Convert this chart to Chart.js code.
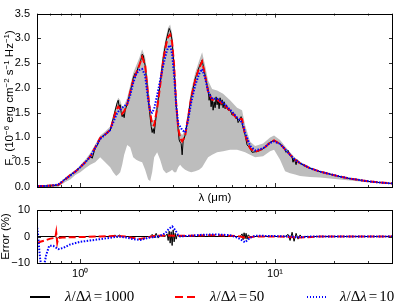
<!DOCTYPE html>
<html>
<head>
<meta charset="utf-8">
<script src="https://cdn.jsdelivr.net/npm/chart.js@4.4.0/dist/chart.umd.min.js"></script>
<style>
  body { margin: 0; width: 403px; height: 306px; overflow: hidden; background: #fff; position: relative; }
  canvas { position: absolute; left: 0; }
  #top { top: 0; }
  #bot { top: 195px; }
  .txt { position: absolute; top: 288px; font: 15px "Liberation Serif", serif; line-height: 17px; white-space: nowrap; color: #000; }
  .txt span { margin: 0 2px; }
  .smp { position: absolute; height: 2px; top: 296px; }
</style>
</head>
<body>
<canvas id="top" width="403" height="205"></canvas>
<canvas id="bot" width="403" height="90"></canvas>

<div class="smp" style="left:30px;width:20px;background:#000;height:1.5px"></div>
<div class="txt" style="left:65px"><i>λ</i>/Δ<i>λ</i><span>=</span>1000</div>
<div class="smp" style="left:175px;width:23px;background:repeating-linear-gradient(90deg,#f00 0 8px,transparent 8px 12px)"></div>
<div class="txt" style="left:210px"><i>λ</i>/Δ<i>λ</i><span>=</span>50</div>
<div class="smp" style="left:307px;width:19px;background:repeating-linear-gradient(90deg,#00f 0 1.5px,transparent 1.5px 3px)"></div>
<div class="txt" style="left:340px"><i>λ</i>/Δ<i>λ</i><span>=</span>10</div>

<script>
// wavelength grid (micron) shared by R=50, R=10 and the high-res envelope
const lam = [0.602,0.661,0.718,0.771,0.838,0.889,0.943,1.000,1.061,1.125,
  1.194,1.266,1.343,1.425,1.476,1.530,1.566,1.604,1.642,1.681,
  1.742,1.805,1.870,1.938,2.007,2.079,2.154,2.232,2.286,2.340,
  2.396,2.482,2.572,2.665,2.761,2.827,2.894,2.963,3.034,3.107,
  3.182,3.257,3.335,3.455,3.580,3.709,3.889,4.076,4.223,4.375,
  4.533,4.752,5.041,5.411,5.878,6.384,6.772,7.017,7.444,7.897,
  8.680,9.427,9.883,10.61,11.26,11.94,12.67,13.44,15.12,17.01,
  19.15,21.54,24.24,27.29,30.71,34.55,40.29];

const flux50 = [0.02,0.02,0.03,0.04,0.15,0.24,0.31,0.40,0.50,0.61,
  0.80,0.99,1.06,1.15,1.35,1.55,1.62,1.58,1.48,1.53,
  1.66,1.92,2.15,2.30,2.45,2.62,2.46,1.85,1.50,1.26,
  1.24,1.58,2.05,2.55,2.88,3.03,3.08,2.92,2.45,1.70,
  1.20,0.98,0.92,1.03,1.40,1.80,2.15,2.40,2.53,2.25,
  1.93,1.76,1.76,1.67,1.54,1.38,1.37,1.05,0.78,0.71,
  0.77,0.90,0.94,0.87,0.76,0.65,0.55,0.48,0.38,0.31,
  0.26,0.21,0.17,0.14,0.11,0.09,0.07];

const flux10 = [0.02,0.02,0.03,0.05,0.16,0.23,0.31,0.40,0.50,0.61,
  0.79,0.97,1.06,1.15,1.30,1.45,1.52,1.56,1.60,1.63,
  1.68,1.85,2.10,2.28,2.36,2.38,2.25,1.75,1.52,1.50,
  1.58,1.85,2.15,2.45,2.70,2.82,2.86,2.68,2.25,1.65,
  1.28,1.22,1.15,1.10,1.35,1.70,2.05,2.28,2.38,2.20,
  1.92,1.78,1.78,1.70,1.56,1.40,1.30,1.10,0.83,0.74,
  0.78,0.89,0.92,0.87,0.76,0.65,0.55,0.48,0.38,0.31,
  0.26,0.21,0.17,0.14,0.11,0.09,0.07];

// envelope of the full-resolution spectrum
const hiresMax = [0.03,0.04,0.05,0.06,0.19,0.27,0.34,0.44,0.55,0.68,
  0.86,1.04,1.12,1.22,1.45,1.68,1.80,1.75,1.62,1.65,
  1.80,2.05,2.30,2.45,2.60,2.78,2.62,2.10,1.65,1.35,
  1.35,1.75,2.25,2.75,3.05,3.22,3.28,3.10,2.65,1.90,
  1.35,1.10,1.05,1.15,1.55,1.95,2.30,2.55,2.72,2.45,
  2.15,1.98,1.95,1.88,1.75,1.60,1.55,1.25,0.92,0.83,
  0.88,1.00,1.04,0.95,0.82,0.70,0.59,0.51,0.40,0.33,
  0.27,0.22,0.18,0.145,0.115,0.095,0.075];

const hiresMin = [0.0,0.0,0.0,0.0,0.10,0.15,0.24,0.30,0.38,0.45,
  0.50,0.60,0.50,0.40,0.30,0.22,0.25,0.30,0.45,0.65,
  0.85,0.80,0.60,0.55,0.52,0.50,0.35,0.15,0.12,0.30,
  0.60,0.70,0.55,0.35,0.28,0.30,0.32,0.35,0.30,0.30,
  0.40,0.45,0.40,0.35,0.32,0.30,0.32,0.35,0.40,0.50,
  0.60,0.65,0.70,0.72,0.75,0.75,0.72,0.70,0.65,0.60,
  0.62,0.72,0.75,0.55,0.32,0.28,0.25,0.22,0.20,0.19,
  0.17,0.15,0.13,0.11,0.09,0.075,0.06];

// R=1000 has its own, finer grid
const lam1000 = [0.602,0.661,0.718,0.771,0.838,0.889,0.943,1.000,1.061,1.099,
  1.125,1.152,1.180,1.194,1.222,1.266,1.312,1.343,1.392,1.425,
  1.476,1.512,1.548,1.566,1.585,1.604,1.623,1.642,1.662,1.681,
  1.701,1.742,1.805,1.848,1.870,1.915,1.938,1.984,2.031,2.079,
  2.104,2.154,2.206,2.232,2.286,2.313,2.340,2.368,2.396,2.424,
  2.482,2.572,2.665,2.761,2.827,2.861,2.894,2.929,2.963,3.034,
  3.107,3.182,3.219,3.257,3.296,3.335,3.374,3.415,3.455,3.580,
  3.709,3.889,4.076,4.223,4.375,4.480,4.533,4.587,4.642,4.697,
  4.752,4.809,4.866,4.924,4.982,5.041,5.101,5.162,5.223,5.285,
  5.348,5.411,5.476,5.541,5.607,5.741,5.878,6.018,6.162,6.310,
  6.384,6.460,6.614,6.693,6.772,6.853,7.017,7.184,7.444,7.622,
  7.897,8.181,8.680,9.427,9.883,10.61,11.12,11.39,11.66,11.94,
  12.23,12.37,12.52,12.82,12.97,13.28,13.44,14.25,15.12,17.01,
  19.15,21.54,24.24,27.29,30.71,34.55,40.29];

const flux1000 = [0.02,0.02,0.03,0.04,0.16,0.24,0.31,0.40,0.50,0.56,
  0.63,0.58,0.72,0.78,0.84,0.97,1.04,1.06,1.10,1.14,
  1.38,1.55,1.70,1.75,1.62,1.66,1.50,1.42,1.47,1.40,
  1.55,1.67,1.92,2.10,2.20,2.30,2.28,2.42,2.50,2.68,
  2.66,2.45,2.05,1.80,1.40,1.22,1.10,1.18,1.08,1.25,
  1.60,2.08,2.60,2.95,3.12,3.20,3.16,3.08,2.95,2.40,
  1.65,1.15,0.95,0.90,0.88,0.65,0.92,0.98,1.05,1.42,
  1.82,2.18,2.42,2.56,2.26,2.05,1.98,1.75,1.88,1.62,
  1.80,1.55,1.72,1.60,1.82,1.66,1.78,1.58,1.80,1.65,
  1.76,1.60,1.72,1.58,1.66,1.55,1.56,1.45,1.48,1.38,
  1.40,1.30,1.36,1.42,1.30,1.20,1.05,0.85,0.78,0.70,
  0.71,0.72,0.77,0.90,0.94,0.87,0.80,0.70,0.74,0.64,
  0.60,0.50,0.58,0.45,0.55,0.50,0.48,0.42,0.38,0.31,
  0.26,0.21,0.17,0.14,0.11,0.09,0.07];

// relative error (%) of each resolution
const lamErr1000 = [0.602,0.745,0.762,0.780,1.425,1.512,1.548,1.585,1.623,2.286,
  2.340,2.396,2.453,2.512,2.572,2.729,2.794,2.827,2.861,2.894,
  2.929,2.963,2.999,3.034,3.070,3.107,3.145,3.257,6.614,6.772,
  6.853,6.934,7.017,7.100,7.184,7.268,7.444,11.26,11.66,11.94,
  12.23,12.52,12.82,13.12,13.44,13.76,14.25,40.29];
const err1000 = [0,0,-0.8,0,0,0.5,-0.4,0.6,0,0,
  0.8,-0.5,1.2,-0.6,0.3,0,1.0,-1.5,2.0,-2.5,
  1.8,-3.4,2.5,-2.0,1.2,-1.0,0.5,0,0,1.0,
  -1.2,1.4,-0.8,1.2,-1.0,0.6,0,0,0.8,-1.5,
  1.6,-1.8,1.2,-1.0,0.6,-0.4,0,0];

const lamErr50 = [0.602,0.624,0.661,0.702,0.745,0.753,0.762,0.771,0.809,0.889,
  1.000,1.266,1.548,1.701,1.848,2.031,2.232,2.424,2.729,3.070,
  3.665,4.124,4.924,5.878,6.614,7.100,7.897,10.61,13.44,17.01,40.29];
const err50 = [-2.5,-2.0,-1.5,-0.8,-0.5,1.6,-2.3,-0.6,-0.4,-0.3,
  -0.2,0,0.2,0,-0.5,-0.9,-0.3,0.3,0.4,0.3,
  0.3,0.4,0.5,0.3,0,-0.6,0,0,-0.4,0,0];

const lamErr10 = [0.602,0.609,0.616,0.624,0.631,0.654,0.669,0.693,0.727,0.771,
  0.818,0.889,1.000,1.125,1.266,1.425,1.548,1.701,1.870,2.031,
  2.232,2.512,2.729,2.861,2.963,3.070,3.182,3.257,3.665,4.124,
  4.924,5.878,6.460,7.017,7.444,7.897,9.427,11.94,13.44,15.12,40.29];
const err10 = [3.3,0,-5,-9,-10.5,-10.5,-7,-3.5,-3.5,-4.8,
  -4.3,-3,-2,-1.5,-1,-0.5,0,-0.3,-1,-1.3,
  -0.5,0,1.2,3.0,3.8,2.5,0.5,0,0.3,0.6,
  0.8,0.5,-0.5,-2.2,-0.5,0.3,0.2,0,-0.3,0,0];

const fluxTicks = [0, 0.5, 1, 1.5, 2, 2.5, 3, 3.5];
const errTicks = [-10, -5, 0, 5, 10];

const pts = (xs, ys) => xs.map((x, i) => ({x: x, y: ys[i]}));

Chart.defaults.font.family = "'Liberation Sans', Arial, sans-serif";
Chart.defaults.font.size = 11;
Chart.defaults.color = '#000';

const X_MIN = 0.6, X_MAX = 40.3;

// inward ticks + frame, matplotlib style
const frame = {
  id: 'frame',
  afterDatasetsDraw(chart) {
    const ctx = chart.ctx, a = chart.chartArea;
    const xs = chart.scales.x, ys = chart.scales.y;
    ctx.save();
    ctx.strokeStyle = '#333';
    ctx.lineWidth = 1;
    ctx.beginPath();
    for (const dec of [0.1, 1, 10]) {
      for (let k = 1; k < 10; k++) {
        const v = dec * k;
        if (v < X_MIN || v > X_MAX) continue;
        const px = Math.round(xs.getPixelForValue(v)) + 0.5;
        const len = k === 1 ? 4 : 2;
        ctx.moveTo(px, a.bottom); ctx.lineTo(px, a.bottom - len);
        ctx.moveTo(px, a.top); ctx.lineTo(px, a.top + len);
      }
    }
    for (const t of ys.ticks) {
      const py = Math.round(ys.getPixelForValue(t.value)) + 0.5;
      ctx.moveTo(a.left, py); ctx.lineTo(a.left + 4, py);
      ctx.moveTo(a.right, py); ctx.lineTo(a.right - 4, py);
    }
    ctx.stroke();
    ctx.strokeStyle = '#000';
    ctx.strokeRect(Math.round(a.left) + 0.5, Math.round(a.top) + 0.5,
      Math.round(a.right - a.left) - 1, Math.round(a.bottom - a.top));
    ctx.restore();
  }
};

// y title with sub/superscripts
const fluxTitle = {
  id: 'fluxTitle',
  afterDraw(chart) {
    const ctx = chart.ctx;
    const parts = [['F', 0], ['ν', 1], [' (10', 0], ['−6', -1], [' erg cm', 0], ['−2', -1],
      [' s', 0], ['−1', -1], [' Hz', 0], ['−1', -1], [')', 0]];
    const big = "11.5px 'Liberation Sans', Arial, sans-serif";
    const small = "8px 'Liberation Sans', Arial, sans-serif";
    ctx.save();
    let w = 0;
    for (const [t, s] of parts) { ctx.font = s ? small : big; w += ctx.measureText(t).width; }
    ctx.translate(9, 98);
    ctx.rotate(-Math.PI / 2);
    ctx.fillStyle = '#000';
    ctx.textBaseline = 'alphabetic';
    let x = -w / 2;
    for (const [t, s] of parts) {
      ctx.font = s ? small : big;
      ctx.fillText(t, x, 4 + (s === 1 ? 3 : s === -1 ? -4 : 0));
      x += ctx.measureText(t).width;
    }
    ctx.restore();
  }
};

const line = (label, data, color, width, dash) => ({
  label: label, data: data, borderColor: color, backgroundColor: color,
  borderWidth: width, borderDash: dash, pointRadius: 0, fill: false, tension: 0
});

new Chart(document.getElementById('top'), {
  type: 'line',
  data: {
    datasets: [
      line('λ/Δλ=10', pts(lam, flux10), '#0000ff', 2, [1.5, 1.5]),
      line('λ/Δλ=50', pts(lam, flux50), '#ff0000', 2, [7, 3]),
      line('λ/Δλ=1000', pts(lam1000, flux1000), '#000000', 1, []),
      { label: 'hi-res max', data: pts(lam, hiresMax), borderWidth: 0, pointRadius: 0,
        backgroundColor: '#bdbdbd', fill: '+1' },
      { label: 'hi-res min', data: pts(lam, hiresMin), borderWidth: 0, pointRadius: 0,
        backgroundColor: '#bdbdbd', fill: false }
    ]
  },
  options: {
    responsive: false, animation: false, devicePixelRatio: 1,
    layout: { padding: { top: 5, right: 10, left: 0, bottom: 0 } },
    plugins: { legend: { display: false }, tooltip: { enabled: false } },
    scales: {
      x: {
        type: 'logarithmic', min: X_MIN, max: X_MAX,
        ticks: { display: false },
        grid: { display: false, drawTicks: false },
        border: { display: false },
        title: { display: true, text: 'λ (μm)', font: { size: 11.5 }, padding: 0 },
        afterFit: (s) => { s.height = 18; }
      },
      y: {
        min: 0, max: 3.5,
        afterBuildTicks: (s) => { s.ticks = fluxTicks.map(v => ({ value: v })); },
        ticks: { padding: 7, callback: (v) => v.toFixed(1) },
        grid: { display: false, drawTicks: false },
        border: { display: false },
        afterFit: (s) => { s.width = 37; }
      }
    }
  },
  plugins: [frame, fluxTitle]
});

new Chart(document.getElementById('bot'), {
  type: 'line',
  data: {
    datasets: [
      line('λ/Δλ=10', pts(lamErr10, err10), '#0000ff', 2, [1.5, 1.5]),
      line('λ/Δλ=50', pts(lamErr50, err50), '#ff0000', 2, [7, 3]),
      line('λ/Δλ=1000', pts(lamErr1000, err1000), '#000000', 1, [])
    ]
  },
  options: {
    responsive: false, animation: false, devicePixelRatio: 1,
    layout: { padding: { top: 15, right: 10, left: 0, bottom: 0 } },
    plugins: { legend: { display: false }, tooltip: { enabled: false } },
    scales: {
      x: {
        type: 'logarithmic', min: X_MIN, max: X_MAX,
        afterBuildTicks: (s) => { s.ticks = [{ value: 1 }, { value: 10 }]; },
        ticks: { padding: 4, autoSkip: false, maxRotation: 0,
          callback: (v) => v === 1 ? '10⁰' : '10¹' },
        grid: { display: false, drawTicks: false },
        border: { display: false },
        afterFit: (s) => { s.height = 22; }
      },
      y: {
        min: -10, max: 10,
        afterBuildTicks: (s) => { s.ticks = errTicks.map(v => ({ value: v })); },
        ticks: { padding: 7, callback: (v) => v < 0 ? '\u2212' + (-v) : String(v) },
        grid: { display: false, drawTicks: false },
        border: { display: false },
        title: { display: true, text: 'Error (%)', font: { size: 11.5, lineHeight: 1 }, padding: 0 },
        afterFit: (s) => { s.width = 37; }
      }
    }
  },
  plugins: [frame]
});
</script>
</body>
</html>
